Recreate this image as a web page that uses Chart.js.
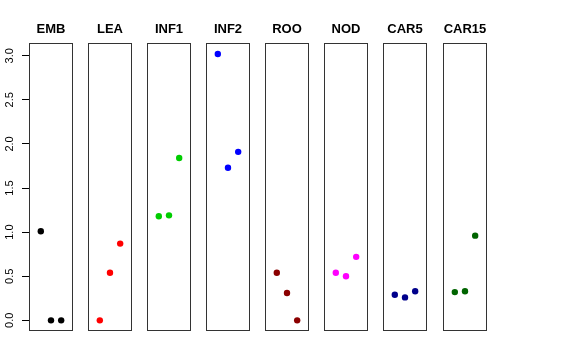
<!DOCTYPE html>
<html>
<head>
<meta charset="utf-8">
<script src="https://cdn.jsdelivr.net/npm/chart.js@4.4.0/dist/chart.umd.min.js"></script>
<style>
  html, body { margin: 0; padding: 0; background: #fff; }
  #wrap { position: relative; width: 576px; height: 360px; }
  #wrap canvas { position: absolute; top: 0; }
</style>
</head>
<body>
<div id="wrap"></div>
<script>
// panel names and the three replicate values in each panel
const panels = ["EMB", "LEA", "INF1", "INF2", "ROO", "NOD", "CAR5", "CAR15"];
const replicate = [1, 2, 3];
const emb = [1.01, 0.0, 0.0];
const lea = [0.0, 0.54, 0.87];
const inf1 = [1.18, 1.19, 1.84];
const inf2 = [3.02, 1.73, 1.91];
const roo = [0.54, 0.31, 0.0];
const nod = [0.54, 0.50, 0.72];
const car5 = [0.29, 0.26, 0.33];
const car15 = [0.32, 0.33, 0.96];
const yTicks = [0, 0.5, 1, 1.5, 2, 2.5, 3];

const values = [emb, lea, inf1, inf2, roo, nod, car5, car15];
const colors = ["#000000", "#FF0000", "#00CD00", "#0000FF", "#8B0000", "#FF00FF", "#00008B", "#006400"];
const panelLeft = [29, 88, 147, 206, 265, 324, 383, 443];
const font = "'Liberation Sans', Arial, Helvetica, sans-serif";

// box around each panel
const boxPlugin = {
    id: "box",
    beforeDatasetsDraw: function (chart) {
        const a = chart.chartArea;
        const c = chart.ctx;
        c.save();
        c.strokeStyle = "#333333";
        c.lineWidth = 1;
        c.strokeRect(Math.round(a.left) + 0.5, Math.round(a.top) + 0.5,
            Math.round(a.right - a.left) - 1, Math.round(a.bottom - a.top) - 1);
        c.restore();
    },
};

const wrap = document.getElementById("wrap");

panels.forEach(function (name, i) {
    const first = i === 0;
    // other canvases are symmetric round the panel so the title is centred on it
    const side = first ? 29 : 8;
    const canvas = document.createElement("canvas");
    canvas.width = first ? 74 : 44 + 2 * side;
    canvas.height = 340;
    canvas.style.left = (panelLeft[i] - side) + "px";
    wrap.appendChild(canvas);

    new Chart(canvas.getContext("2d"), {
        type: "scatter",
        data: {
            datasets: [
                {
                    data: values[i].map(function (v, k) { return { x: replicate[k], y: v }; }),
                    backgroundColor: colors[i],
                    borderWidth: 0,
                    pointRadius: 3.2,
                },
            ],
        },
        plugins: [boxPlugin],
        options: {
            responsive: false,
            animation: false,
            layout: {
                autoPadding: false,
                padding: { left: first ? 0 : side, right: first ? 1 : side, top: 0, bottom: 9 },
            },
            scales: {
                x: { type: "linear", min: -0.16, max: 4.16, display: false },
                y: {
                    type: "linear",
                    min: -0.121,
                    max: 3.141,
                    display: first,
                    afterFit: function (s) {
                        s.width = first ? 29 : 0;
                        s.paddingTop = 0;
                        s.paddingBottom = 0;
                        s.paddingLeft = 0;
                        s.paddingRight = 0;
                    },
                    afterBuildTicks: function (s) {
                        s.ticks = yTicks.map(function (v) { return { value: v }; });
                    },
                    border: { display: false },
                    grid: { drawOnChartArea: false, drawTicks: true, tickLength: 7, color: "#000", lineWidth: 1 },
                    ticks: {
                        color: "#000",
                        font: { family: font, size: 11 },
                        padding: 4,
                        crossAlign: "center",
                        minRotation: 90,
                        maxRotation: 90,
                        callback: function (v) { return Number(v).toFixed(1); },
                    },
                },
            },
            plugins: {
                legend: { display: false },
                tooltip: { enabled: false },
                title: {
                    display: true,
                    fullSize: !first,
                    text: name,
                    color: "#000",
                    font: { family: font, size: 13, weight: "bold" },
                    padding: { top: 21.5, bottom: 6.2 },
                },
            },
        },
    });
});
</script>
</body>
</html>
